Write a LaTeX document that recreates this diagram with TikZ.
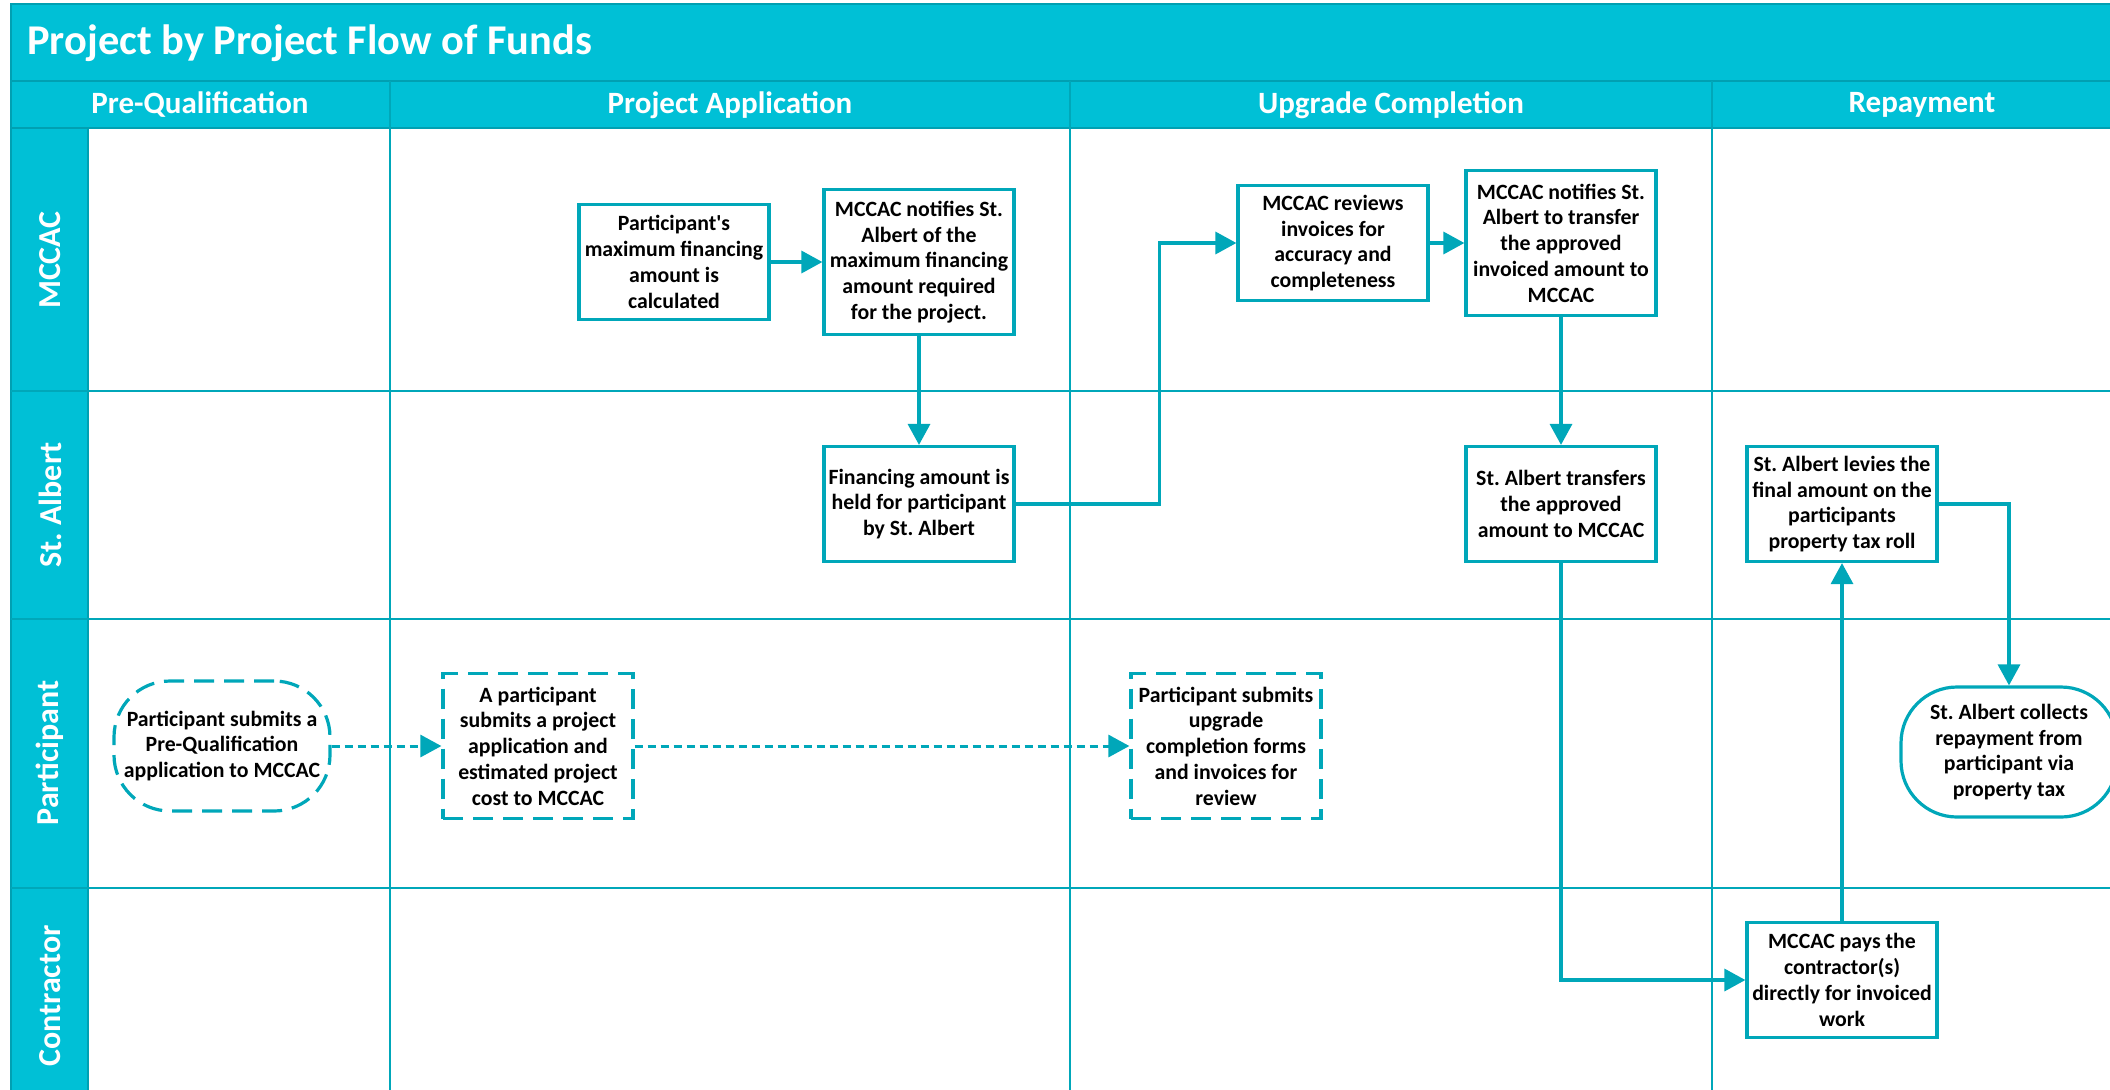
\documentclass[tikz,border=0pt]{standalone}
\usepackage{fontspec}
\setmainfont{Carlito}
\usetikzlibrary{arrows.meta, calc}

\definecolor{swimcyan}{RGB}{0,192,214}
\definecolor{flowteal}{RGB}{0,167,185}
\definecolor{rulecyan}{RGB}{0,160,178}

\newcommand{\boxfont}{\bfseries\fontsize{10.9}{12.9}\selectfont}
\frenchspacing

\tikzset{
  stepbox/.style={draw=flowteal, line width=1.6pt, fill=white, align=center,
    inner xsep=1.5pt, inner ysep=4pt,
    minimum width=95pt, minimum height=57.5pt, font=\boxfont},
  tallbox/.style={stepbox, minimum height=72.5pt},
  userbox/.style={tallbox, dash pattern=on 10pt off 5pt},
  endcap/.style={stepbox, rounded corners=28pt,
    minimum width=108pt, minimum height=65pt},
  flow/.style={draw=flowteal, line width=1.7pt, -{Triangle[length=10.5pt,width=11pt]}},
  userflow/.style={flow, line width=1.5pt, dash pattern=on 4pt off 2.5pt},
  lanerule/.style={draw=flowteal, line width=0.8pt},
  lanelabel/.style={rotate=90, text=white, font=\bfseries\fontsize{16}{19}\selectfont},
  phaselabel/.style={text=white, font=\bfseries\fontsize{15.5}{18}\selectfont},
}

\begin{document}
\begin{tikzpicture}[x=0.5pt, y=-0.5pt]
  \useasboundingbox (0,0) rectangle (2110,1089);
  \clip (0,0) rectangle (2110,1089);

  % title band, phase row and lane column
  \fill[swimcyan] (11,4) rectangle (2132,128);
  \fill[swimcyan] (11,128) rectangle (88,1104);
  \draw[rulecyan, line width=0.8pt] (11,1104) -- (11,4) -- (2132,4);
  \draw[rulecyan, line width=0.8pt] (11,81) -- (2132,81);
  \draw[rulecyan, line width=0.8pt] (11,128) -- (2132,128);
  \draw[rulecyan, line width=0.8pt] (88,128) -- (88,1104);
  \foreach \y in {391,619,888}
    \draw[lanerule] (11,\y) -- (2132,\y);
  \foreach \x in {390,1070,1712}
    \draw[lanerule] (\x,81) -- (\x,1104);

  \node[anchor=west, inner sep=0pt, text=white, font=\bfseries\fontsize{21.2}{25}\selectfont]
    (title) at (27,43) {Project by Project Flow of Funds};

  \node[phaselabel] (hprequal) at (200,105) {Pre-Qualification};
  \node[phaselabel] (happly) at (730,105) {Project Application};
  \node[phaselabel] (hupgrade) at (1391,105) {Upgrade Completion};
  \node[phaselabel] (hrepay) at (1922,105) {Repayment};

  \node[lanelabel] (lmccac) at (50,260) {MCCAC};
  \node[lanelabel] (lalbert) at (50,505) {St. Albert};
  \node[lanelabel] (lparticipant) at (50,753) {Participant};
  \node[lanelabel] (lcontractor) at (50,996) {Contractor};

  % MCCAC lane
  \node[stepbox] (calcmax) at (674,262)
    {Participant\textquotesingle s\\maximum financing\\amount is\\calculated};
  \node[tallbox] (notifymax) at (919,262)
    {MCCAC notifies St.\\Albert of the\\maximum financing\\amount required\\for the project.};
  \node[stepbox] (reviewinv) at (1333,243)
    {MCCAC reviews\\invoices for\\accuracy and\\completeness};
  \node[tallbox] (notifytransfer) at (1561,243)
    {MCCAC notifies St.\\Albert to transfer\\the approved\\invoiced amount to\\MCCAC};

  % St. Albert lane
  \node[stepbox] (heldfunds) at (919,504)
    {Financing amount is\\held for participant\\by St. Albert};
  \node[stepbox] (transferamt) at (1561,504)
    {St. Albert transfers\\the approved\\amount to MCCAC};
  \node[stepbox] (levytax) at (1842,504)
    {St. Albert levies the\\final amount on the\\participants\\property tax roll};

  % Participant lane
  \node[endcap, dash pattern=on 10pt off 5pt] (prequalapp) at (222,746)
    {Participant submits a\\Pre-Qualification\\application to MCCAC};
  \node[userbox] (projectapp) at (538,746)
    {A participant\\submits a project\\application and\\estimated project\\cost to MCCAC};
  \node[userbox] (completionforms) at (1226,746)
    {Participant submits\\upgrade\\completion forms\\and invoices for\\review};
  \node[endcap] (collecttax) at (2009,752)
    {St. Albert collects\\repayment from\\participant via\\property tax};

  % Contractor lane
  \node[stepbox] (paycontractor) at (1842,980)
    {MCCAC pays the\\contractor(s)\\directly for invoiced\\work};

  \draw[flow] (calcmax) -- (notifymax);
  \draw[flow] (notifymax) -- (heldfunds);
  \draw[flow] (heldfunds.east) -| ($(reviewinv.west)+(-77,0)$) -- (reviewinv.west);
  \draw[flow] (reviewinv) -- (notifytransfer);
  \draw[flow] (notifytransfer) -- (transferamt);
  \draw[flow] (transferamt.south) |- (paycontractor.west);
  \draw[flow] (paycontractor) -- (levytax);
  \draw[flow] (levytax.east) -| (collecttax.north);
  \draw[userflow] (prequalapp) -- (projectapp);
  \draw[userflow] (projectapp) -- (completionforms);
\end{tikzpicture}
\end{document}
